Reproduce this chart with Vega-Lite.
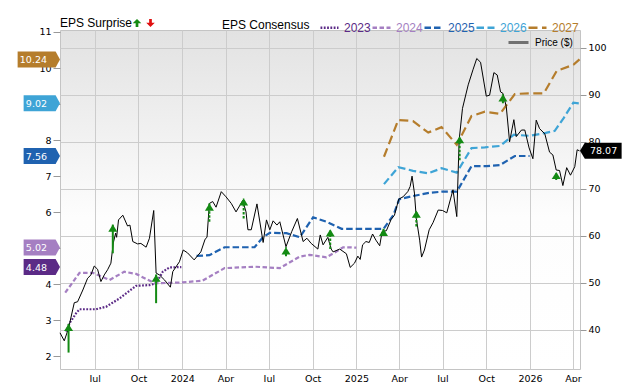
{
  "$schema": "https://vega.github.io/schema/vega-lite/v6.json",
  "width": 520,
  "height": 339,
  "autosize": {"type": "none"},
  "padding": {"left": 60, "top": 30, "right": 60, "bottom": 13},
  "background": "white",
  "config": {
    "view": {
      "stroke": "#c4c4c4",
      "fill": {"gradient": "linear", "x1": 0, "y1": 0, "x2": 0, "y2": 1,
        "stops": [{"offset": 0, "color": "#e2e2e2"}, {"offset": 0.55, "color": "#fdfdfd"}, {"offset": 1, "color": "#ffffff"}]}
    },
    "axis": {"labelFont": "DejaVu Sans", "labelFontSize": 9.5, "labelColor": "#000", "domain": false, "tickColor": "#999", "gridColor": "#cccccc", "gridWidth": 1, "labelOverlap": false},
    "legend": {"labelFont": "Liberation Sans", "titleFont": "Liberation Sans", "labelFontSize": 12, "titleFontSize": 12, "titleFontWeight": "normal", "titleColor": "#000", "labelColor": "#000", "padding": 0}
  },
  "datasets": {
    "cons": [
      {"year": "2023", "date": "2023-05-02", "eps": 2.69}, {"year": "2023", "date": "2023-05-09", "eps": 2.92}, {"year": "2023", "date": "2023-05-23", "eps": 3.2}, {"year": "2023", "date": "2023-05-30", "eps": 3.31}, {"year": "2023", "date": "2023-07-04", "eps": 3.31}, {"year": "2023", "date": "2023-07-25", "eps": 3.38}, {"year": "2023", "date": "2023-08-22", "eps": 3.61}, {"year": "2023", "date": "2023-09-26", "eps": 3.96}, {"year": "2023", "date": "2023-10-24", "eps": 3.98}, {"year": "2023", "date": "2023-11-07", "eps": 4.03}, {"year": "2023", "date": "2023-11-21", "eps": 4.35}, {"year": "2023", "date": "2023-12-05", "eps": 4.47}, {"year": "2023", "date": "2023-12-30", "eps": 4.48},
      {"year": "2024", "date": "2023-04-30", "eps": 3.77}, {"year": "2024", "date": "2023-05-30", "eps": 4.32}, {"year": "2024", "date": "2023-06-27", "eps": 4.32}, {"year": "2024", "date": "2023-08-01", "eps": 4.12}, {"year": "2024", "date": "2023-09-01", "eps": 4.35}, {"year": "2024", "date": "2023-09-26", "eps": 4.29}, {"year": "2024", "date": "2023-11-04", "eps": 4.03}, {"year": "2024", "date": "2023-12-26", "eps": 4.05}, {"year": "2024", "date": "2024-02-12", "eps": 4.1}, {"year": "2024", "date": "2024-03-30", "eps": 4.45}, {"year": "2024", "date": "2024-06-01", "eps": 4.49}, {"year": "2024", "date": "2024-07-24", "eps": 4.45}, {"year": "2024", "date": "2024-09-04", "eps": 4.77}, {"year": "2024", "date": "2024-09-25", "eps": 4.82}, {"year": "2024", "date": "2024-10-30", "eps": 4.75}, {"year": "2024", "date": "2024-11-20", "eps": 4.91}, {"year": "2024", "date": "2024-12-04", "eps": 5.03}, {"year": "2024", "date": "2025-01-01", "eps": 5.02},
      {"year": "2025", "date": "2024-01-31", "eps": 4.79}, {"year": "2025", "date": "2024-02-27", "eps": 4.81}, {"year": "2025", "date": "2024-03-30", "eps": 5.03}, {"year": "2025", "date": "2024-06-01", "eps": 5.03}, {"year": "2025", "date": "2024-06-19", "eps": 5.31}, {"year": "2025", "date": "2024-07-03", "eps": 5.43}, {"year": "2025", "date": "2024-08-07", "eps": 5.42}, {"year": "2025", "date": "2024-09-04", "eps": 5.31}, {"year": "2025", "date": "2024-10-02", "eps": 5.86}, {"year": "2025", "date": "2024-10-30", "eps": 5.74}, {"year": "2025", "date": "2024-12-01", "eps": 5.54}, {"year": "2025", "date": "2025-02-27", "eps": 5.54}, {"year": "2025", "date": "2025-03-20", "eps": 5.93}, {"year": "2025", "date": "2025-04-01", "eps": 6.36}, {"year": "2025", "date": "2025-04-30", "eps": 6.45}, {"year": "2025", "date": "2025-06-04", "eps": 6.54}, {"year": "2025", "date": "2025-06-29", "eps": 6.57}, {"year": "2025", "date": "2025-07-31", "eps": 6.57}, {"year": "2025", "date": "2025-08-31", "eps": 7.28}, {"year": "2025", "date": "2025-10-02", "eps": 7.28}, {"year": "2025", "date": "2025-10-30", "eps": 7.31}, {"year": "2025", "date": "2025-11-30", "eps": 7.56}, {"year": "2025", "date": "2025-12-31", "eps": 7.56},
      {"year": "2026", "date": "2025-02-28", "eps": 6.78}, {"year": "2026", "date": "2025-03-30", "eps": 7.25}, {"year": "2026", "date": "2025-04-30", "eps": 7.15}, {"year": "2026", "date": "2025-06-01", "eps": 7.08}, {"year": "2026", "date": "2025-06-29", "eps": 7.22}, {"year": "2026", "date": "2025-07-31", "eps": 7.1}, {"year": "2026", "date": "2025-08-31", "eps": 7.78}, {"year": "2026", "date": "2025-09-28", "eps": 7.8}, {"year": "2026", "date": "2025-10-30", "eps": 7.84}, {"year": "2026", "date": "2025-11-28", "eps": 8.15}, {"year": "2026", "date": "2025-12-31", "eps": 8.12}, {"year": "2026", "date": "2026-02-03", "eps": 8.2}, {"year": "2026", "date": "2026-02-22", "eps": 8.26}, {"year": "2026", "date": "2026-03-13", "eps": 8.62}, {"year": "2026", "date": "2026-04-02", "eps": 9.04}, {"year": "2026", "date": "2026-04-15", "eps": 9.02},
      {"year": "2027", "date": "2025-02-28", "eps": 7.54}, {"year": "2027", "date": "2025-03-30", "eps": 8.56}, {"year": "2027", "date": "2025-04-30", "eps": 8.53}, {"year": "2027", "date": "2025-06-01", "eps": 8.21}, {"year": "2027", "date": "2025-06-29", "eps": 8.36}, {"year": "2027", "date": "2025-07-31", "eps": 7.87}, {"year": "2027", "date": "2025-08-31", "eps": 8.67}, {"year": "2027", "date": "2025-09-28", "eps": 8.79}, {"year": "2027", "date": "2025-10-30", "eps": 8.73}, {"year": "2027", "date": "2025-11-30", "eps": 9.28}, {"year": "2027", "date": "2025-12-31", "eps": 9.3}, {"year": "2027", "date": "2026-01-30", "eps": 9.3}, {"year": "2027", "date": "2026-02-26", "eps": 9.92}, {"year": "2027", "date": "2026-04-02", "eps": 10.09}, {"year": "2027", "date": "2026-04-15", "eps": 10.24}
    ],
    "tags": [
      {"year": "2027", "eps": 10.24}, {"year": "2026", "eps": 9.02}, {"year": "2025", "eps": 7.56}, {"year": "2024", "eps": 5.02}, {"year": "2023", "eps": 4.48}
    ],
    "price": [
      {"date": "2023-04-19", "p": 39.4}, {"date": "2023-04-28", "p": 37.7}, {"date": "2023-05-07", "p": 40.4}, {"date": "2023-05-19", "p": 45.8}, {"date": "2023-05-26", "p": 46.0}, {"date": "2023-06-06", "p": 48.5}, {"date": "2023-06-16", "p": 51.0}, {"date": "2023-06-23", "p": 51.7}, {"date": "2023-06-30", "p": 53.6}, {"date": "2023-07-07", "p": 52.9}, {"date": "2023-07-14", "p": 50.3}, {"date": "2023-07-21", "p": 51.7}, {"date": "2023-07-28", "p": 52.8}, {"date": "2023-08-04", "p": 54.2}, {"date": "2023-08-09", "p": 58.5}, {"date": "2023-08-14", "p": 60.6}, {"date": "2023-08-16", "p": 59.7}, {"date": "2023-08-20", "p": 63.4}, {"date": "2023-08-29", "p": 64.4}, {"date": "2023-09-08", "p": 62.1}, {"date": "2023-09-13", "p": 62.3}, {"date": "2023-09-19", "p": 58.8}, {"date": "2023-09-29", "p": 58.3}, {"date": "2023-10-06", "p": 58.4}, {"date": "2023-10-17", "p": 57.6}, {"date": "2023-10-24", "p": 59.5}, {"date": "2023-11-02", "p": 65.4}, {"date": "2023-11-07", "p": 52.1}, {"date": "2023-11-14", "p": 51.7}, {"date": "2023-11-25", "p": 50.6}, {"date": "2023-12-07", "p": 49.1}, {"date": "2023-12-12", "p": 52.4}, {"date": "2023-12-26", "p": 54.5},
      {"date": "2024-01-03", "p": 57.0}, {"date": "2024-01-12", "p": 56.4}, {"date": "2024-01-26", "p": 54.9}, {"date": "2024-02-09", "p": 56.6}, {"date": "2024-02-18", "p": 59.3}, {"date": "2024-02-22", "p": 59.7}, {"date": "2024-02-27", "p": 66.9}, {"date": "2024-03-05", "p": 67.3}, {"date": "2024-03-12", "p": 66.1}, {"date": "2024-03-23", "p": 69.4}, {"date": "2024-04-02", "p": 68.3}, {"date": "2024-04-13", "p": 66.9}, {"date": "2024-04-23", "p": 65.1}, {"date": "2024-05-07", "p": 67.5}, {"date": "2024-05-14", "p": 65.1}, {"date": "2024-05-18", "p": 61.3}, {"date": "2024-05-25", "p": 61.3}, {"date": "2024-06-06", "p": 66.8}, {"date": "2024-06-19", "p": 58.6}, {"date": "2024-06-26", "p": 63.4}, {"date": "2024-07-03", "p": 61.3}, {"date": "2024-07-10", "p": 63.2}, {"date": "2024-07-18", "p": 62.3}, {"date": "2024-07-24", "p": 63.0}, {"date": "2024-08-06", "p": 57.7}, {"date": "2024-08-18", "p": 60.9}, {"date": "2024-08-30", "p": 63.7}, {"date": "2024-09-11", "p": 58.8}, {"date": "2024-09-19", "p": 59.5}, {"date": "2024-09-28", "p": 58.4}, {"date": "2024-10-12", "p": 57.2}, {"date": "2024-10-17", "p": 60.2}, {"date": "2024-10-23", "p": 58.1}, {"date": "2024-11-02", "p": 59.7}, {"date": "2024-11-09", "p": 57.2}, {"date": "2024-11-13", "p": 56.6}, {"date": "2024-11-27", "p": 57.2}, {"date": "2024-12-11", "p": 56.2}, {"date": "2024-12-19", "p": 53.3}, {"date": "2024-12-28", "p": 54.2},
      {"date": "2025-01-04", "p": 55.7}, {"date": "2025-01-09", "p": 55.0}, {"date": "2025-01-14", "p": 58.1}, {"date": "2025-01-21", "p": 58.8}, {"date": "2025-01-28", "p": 58.6}, {"date": "2025-02-04", "p": 60.4}, {"date": "2025-02-11", "p": 59.1}, {"date": "2025-02-19", "p": 57.9}, {"date": "2025-02-24", "p": 60.9}, {"date": "2025-03-05", "p": 61.1}, {"date": "2025-03-15", "p": 63.5}, {"date": "2025-03-22", "p": 64.4}, {"date": "2025-03-31", "p": 67.8}, {"date": "2025-04-09", "p": 68.3}, {"date": "2025-04-19", "p": 69.4}, {"date": "2025-04-24", "p": 70.5}, {"date": "2025-04-28", "p": 72.7}, {"date": "2025-05-03", "p": 69.1}, {"date": "2025-05-07", "p": 63.7}, {"date": "2025-05-14", "p": 59.1}, {"date": "2025-05-18", "p": 55.5}, {"date": "2025-05-24", "p": 57.0}, {"date": "2025-06-03", "p": 61.3}, {"date": "2025-06-11", "p": 62.8}, {"date": "2025-06-22", "p": 65.5}, {"date": "2025-07-01", "p": 65.4}, {"date": "2025-07-10", "p": 64.9}, {"date": "2025-07-23", "p": 69.8}, {"date": "2025-07-31", "p": 64.1}, {"date": "2025-08-05", "p": 80.4}, {"date": "2025-08-12", "p": 87.1}, {"date": "2025-08-24", "p": 92.1}, {"date": "2025-09-03", "p": 95.3}, {"date": "2025-09-11", "p": 97.7}, {"date": "2025-09-19", "p": 96.9}, {"date": "2025-10-01", "p": 89.7}, {"date": "2025-10-08", "p": 89.9}, {"date": "2025-10-17", "p": 94.7}, {"date": "2025-10-24", "p": 94.2}, {"date": "2025-10-31", "p": 90.6}, {"date": "2025-11-05", "p": 90.3}, {"date": "2025-11-12", "p": 87.5}, {"date": "2025-11-19", "p": 80.0}, {"date": "2025-11-28", "p": 84.7}, {"date": "2025-12-03", "p": 81.1}, {"date": "2025-12-14", "p": 82.5}, {"date": "2025-12-21", "p": 82.5}, {"date": "2025-12-30", "p": 78.7},
      {"date": "2026-01-07", "p": 76.4}, {"date": "2026-01-14", "p": 84.6}, {"date": "2026-01-21", "p": 82.8}, {"date": "2026-02-01", "p": 81.7}, {"date": "2026-02-11", "p": 77.8}, {"date": "2026-02-18", "p": 77.2}, {"date": "2026-02-25", "p": 74.0}, {"date": "2026-03-04", "p": 73.9}, {"date": "2026-03-11", "p": 70.7}, {"date": "2026-03-19", "p": 74.5}, {"date": "2026-03-27", "p": 72.9}, {"date": "2026-04-05", "p": 74.7}, {"date": "2026-04-10", "p": 78.3}, {"date": "2026-04-15", "p": 78.07}
    ],
    "surp": [
      {"date": "2023-05-07", "lo": 35.2, "hi": 41.3, "kind": "beat", "stem": "solid"},
      {"date": "2023-08-08", "lo": 56.3, "hi": 62.4, "kind": "beat", "stem": "solid"},
      {"date": "2023-11-07", "lo": 45.7, "hi": 51.8, "kind": "beat", "stem": "solid"},
      {"date": "2024-02-27", "lo": 63.0, "hi": 66.9, "kind": "beat", "stem": "dashed"},
      {"date": "2024-05-09", "lo": 63.7, "hi": 68.0, "kind": "beat", "stem": "dashed"},
      {"date": "2024-08-06", "lo": 55.7, "hi": 57.6, "kind": "beat", "stem": "dashed"},
      {"date": "2024-11-07", "lo": 57.2, "hi": 61.4, "kind": "beat", "stem": "dashed"},
      {"date": "2025-02-27", "lo": 60.2, "hi": 61.5, "kind": "beat", "stem": "dashed"},
      {"date": "2025-05-07", "lo": 62.0, "hi": 65.4, "kind": "beat", "stem": "dashed"},
      {"date": "2025-08-06", "lo": 76.1, "hi": 81.2, "kind": "beat", "stem": "dashed"},
      {"date": "2025-11-05", "lo": 88.2, "hi": 90.1, "kind": "beat", "stem": "dashed"},
      {"date": "2026-02-25", "lo": 71.9, "hi": 73.6, "kind": "beat", "stem": "dashed"}
    ],
    "last": [{"p": 78.07, "s": "Price ($)"}]
  },
  "resolve": {"scale": {"y": "independent", "shape": "independent"}, "legend": {"shape": "independent"}},
  "layer": [
    {
      "layer": [
        {
          "data": {"name": "cons"},
          "mark": {"type": "line", "strokeWidth": 2.2},
          "encoding": {
            "x": {"field": "date", "type": "temporal",
              "scale": {"domain": [{"year": 2023, "month": 4, "date": 19}, {"year": 2026, "month": 4, "date": 16}]},
              "axis": {"title": null, "grid": true, "tickSize": 0, "labelPadding": 4, "labelOverlap": false,
                "values": [{"year": 2023, "month": 7, "date": 1}, {"year": 2023, "month": 10, "date": 1}, {"year": 2024, "month": 1, "date": 1}, {"year": 2024, "month": 4, "date": 1}, {"year": 2024, "month": 7, "date": 1}, {"year": 2024, "month": 10, "date": 1}, {"year": 2025, "month": 1, "date": 1}, {"year": 2025, "month": 4, "date": 1}, {"year": 2025, "month": 7, "date": 1}, {"year": 2025, "month": 10, "date": 1}, {"year": 2026, "month": 1, "date": 1}, {"year": 2026, "month": 4, "date": 1}],
                "labelExpr": "month(datum.value) == 0 ? timeFormat(datum.value, '%Y') : timeFormat(datum.value, '%b')"}},
            "y": {"field": "eps", "type": "quantitative",
              "scale": {"domain": [1.653, 11.055], "nice": false, "zero": false},
              "axis": {"title": null, "orient": "left", "grid": false, "values": [2, 3, 4, 5, 6, 7, 8, 9, 10, 11], "tickSize": 7, "labelPadding": 2, "labelOverlap": false}},
            "color": {"field": "year", "type": "nominal",
              "scale": {"domain": ["2023", "2024", "2025", "2026", "2027"], "range": ["#5b2a86", "#a57fc2", "#1f62b0", "#3ea4d6", "#b57d2c"]},
              "legend": {"orient": "none", "legendX": 162, "legendY": -13, "direction": "horizontal", "title": "EPS Consensus", "titleOrient": "left", "titlePadding": 9, "symbolType": "stroke", "symbolSize": 324, "symbolStrokeWidth": 2.5, "labelOffset": 4, "columnPadding": -5.5,
                "encode": {"labels": {"update": {"fill": {"signal": "datum.value == '2023' ? '#5b2a86' : datum.value == '2024' ? '#a57fc2' : datum.value == '2025' ? '#1f62b0' : datum.value == '2026' ? '#3ea4d6' : '#b57d2c'"}}}}}},
            "strokeDash": {"field": "year", "type": "nominal",
              "scale": {"domain": ["2023", "2024", "2025", "2026", "2027"], "range": [[1.8, 1.5], [4.5, 2.5], [6.5, 3], [7.5, 3.5], [9, 4.5]]},
              "legend": {"orient": "none", "legendX": 162, "legendY": -13, "direction": "horizontal", "title": "EPS Consensus", "titleOrient": "left", "titlePadding": 9, "symbolType": "stroke", "symbolSize": 324, "symbolStrokeWidth": 2.5, "labelOffset": 4, "columnPadding": -5.5,
                "encode": {"labels": {"update": {"fill": {"signal": "datum.value == '2023' ? '#5b2a86' : datum.value == '2024' ? '#a57fc2' : datum.value == '2025' ? '#1f62b0' : datum.value == '2026' ? '#3ea4d6' : '#b57d2c'"}}}}}}
          }
        },
        {
          "data": {"name": "tags"},
          "transform": [{"filter": "datum.year == '2027'"}],
          "mark": {"type": "point", "filled": true, "opacity": 1, "size": 256, "strokeWidth": 0, "clip": false, "shape": "M-5.3,-1L-0.55,-1L0,0L-0.55,1L-5.3,1Z"},
          "encoding": {
            "x": {"datum": {"year": 2023, "month": 4, "date": 19}, "type": "temporal"},
            "y": {"field": "eps", "type": "quantitative", "axis": {"title": null, "orient": "left", "grid": false, "values": [2, 3, 4, 5, 6, 7, 8, 9, 10, 11], "tickSize": 7, "labelPadding": 2, "labelOverlap": false}},
            "fill": {"field": "year", "type": "nominal", "scale": {"domain": ["2023", "2024", "2025", "2026", "2027"], "range": ["#5b2a86", "#a57fc2", "#1f62b0", "#3ea4d6", "#b57d2c"]}, "legend": null}
          }
        },
        {
          "data": {"name": "tags"},
          "transform": [{"filter": "datum.year != '2027'"}],
          "mark": {"type": "point", "filled": true, "opacity": 1, "size": 256, "strokeWidth": 0, "clip": false, "shape": "M-4.55,-1L-0.55,-1L0,0L-0.55,1L-4.55,1Z"},
          "encoding": {
            "x": {"datum": {"year": 2023, "month": 4, "date": 19}, "type": "temporal"},
            "y": {"field": "eps", "type": "quantitative", "axis": {"title": null, "orient": "left", "grid": false, "values": [2, 3, 4, 5, 6, 7, 8, 9, 10, 11], "tickSize": 7, "labelPadding": 2, "labelOverlap": false}},
            "fill": {"field": "year", "type": "nominal", "legend": null}
          }
        },
        {
          "data": {"name": "tags"},
          "mark": {"type": "text", "align": "right", "baseline": "middle", "dx": -13, "dy": 0.5, "font": "DejaVu Sans", "fontSize": 9.5, "color": "#ffffff", "clip": false},
          "encoding": {
            "x": {"datum": {"year": 2023, "month": 4, "date": 19}, "type": "temporal"},
            "y": {"field": "eps", "type": "quantitative", "axis": {"title": null, "orient": "left", "grid": false, "values": [2, 3, 4, 5, 6, 7, 8, 9, 10, 11], "tickSize": 7, "labelPadding": 2, "labelOverlap": false}},
            "text": {"field": "eps", "type": "quantitative", "format": ".2f"}
          }
        },
        {
          "data": {"name": "surp"},
          "transform": [{"filter": "datum.kind == 'miss'"}],
          "mark": {"type": "point", "filled": true, "color": "#e01010", "opacity": 0, "size": 81, "strokeWidth": 0},
          "encoding": {
            "x": {"field": "date", "type": "temporal"},
            "y": {"field": "lo", "type": "quantitative", "axis": {"title": null, "orient": "left", "grid": false, "values": [2, 3, 4, 5, 6, 7, 8, 9, 10, 11], "tickSize": 7, "labelPadding": 2, "labelOverlap": false}},
            "shape": {"field": "kind", "type": "nominal",
              "scale": {"domain": ["miss"], "range": ["M0,0.9L0.95,-0.05L0.3,-0.05L0.3,-0.9L-0.3,-0.9L-0.3,-0.05L-0.95,-0.05Z"]},
              "legend": {"orient": "none", "legendX": 84.5, "legendY": -13, "direction": "horizontal", "title": null, "labelExpr": "''", "labelOffset": 0, "columnPadding": 0, "symbolSize": 81, "symbolOpacity": 1, "symbolStrokeWidth": 0}}
          }
        }
      ]
    },
    {
      "layer": [
        {
          "data": {"name": "price"},
          "mark": {"type": "line", "strokeWidth": 1, "stroke": "#000000"},
          "encoding": {
            "x": {"field": "date", "type": "temporal"},
            "y": {"field": "p", "type": "quantitative",
              "scale": {"domain": [31.71, 103.76], "nice": false, "zero": false},
              "axis": {"title": null, "orient": "right", "grid": true, "values": [40, 50, 60, 70, 80, 90, 100], "tickSize": 6, "labelPadding": 2, "labelOverlap": false}}
          }
        },
        {
          "data": {"name": "last"},
          "mark": {"type": "line", "strokeWidth": 3},
          "encoding": {
            "x": {"datum": {"year": 2026, "month": 4, "date": 16}, "type": "temporal"},
            "y": {"field": "p", "type": "quantitative"},
            "stroke": {"field": "s", "type": "nominal", "scale": {"range": ["#707070"]},
              "legend": {"orient": "none", "legendX": 447, "legendY": 1, "title": null, "symbolType": "stroke", "symbolSize": 400, "symbolStrokeWidth": 3, "labelFontSize": 10, "labelOffset": 5}}
          }
        },
        {
          "data": {"name": "surp"},
          "transform": [{"filter": "datum.stem == 'solid'"}],
          "mark": {"type": "rule", "color": "#138a13", "strokeWidth": 2},
          "encoding": {
            "x": {"field": "date", "type": "temporal"},
            "y": {"field": "lo", "type": "quantitative"},
            "y2": {"field": "hi"}
          }
        },
        {
          "data": {"name": "surp"},
          "transform": [{"filter": "datum.stem == 'dashed'"}],
          "mark": {"type": "rule", "color": "#138a13", "strokeWidth": 2, "strokeDash": [2.5, 1.5]},
          "encoding": {
            "x": {"field": "date", "type": "temporal"},
            "y": {"field": "lo", "type": "quantitative"},
            "y2": {"field": "hi"}
          }
        },
        {
          "data": {"name": "surp"},
          "mark": {"type": "point", "filled": true, "color": "#138a13", "opacity": 1, "size": 81, "strokeWidth": 0, "shape": "M0,0L1,1.6L-1,1.6Z"},
          "encoding": {
            "x": {"field": "date", "type": "temporal"},
            "y": {"field": "hi", "type": "quantitative"}
          }
        },
        {
          "data": {"name": "surp"},
          "mark": {"type": "point", "filled": true, "color": "#138a13", "opacity": 0, "size": 81, "strokeWidth": 0},
          "encoding": {
            "x": {"field": "date", "type": "temporal"},
            "y": {"field": "hi", "type": "quantitative"},
            "shape": {"field": "kind", "type": "nominal",
              "scale": {"domain": ["beat"], "range": ["M0,-0.9L0.95,0.05L0.3,0.05L0.3,0.9L-0.3,0.9L-0.3,0.05L-0.95,0.05Z"]},
              "legend": {"orient": "none", "legendX": 0, "legendY": -13, "direction": "horizontal", "title": "EPS Surprise", "titleOrient": "left", "titlePadding": -2, "labelExpr": "''", "labelOffset": 0, "columnPadding": 0.5, "symbolSize": 81, "symbolOpacity": 1, "symbolStrokeWidth": 0}}
          }
        },
        {
          "data": {"name": "last"},
          "mark": {"type": "point", "filled": true, "color": "#000000", "opacity": 1, "size": 256, "strokeWidth": 0, "clip": false, "shape": "M0,0L0.6,-1L5.2,-1L5.2,1L0.6,1Z"},
          "encoding": {
            "x": {"datum": {"year": 2026, "month": 4, "date": 16}, "type": "temporal"},
            "y": {"field": "p", "type": "quantitative"}
          }
        },
        {
          "data": {"name": "last"},
          "mark": {"type": "text", "align": "left", "baseline": "middle", "dx": 10, "dy": 0.5, "font": "DejaVu Sans", "fontSize": 9.5, "color": "#ffffff", "clip": false},
          "encoding": {
            "x": {"datum": {"year": 2026, "month": 4, "date": 16}, "type": "temporal"},
            "y": {"field": "p", "type": "quantitative"},
            "text": {"field": "p", "type": "quantitative", "format": ".2f"}
          }
        }
      ]
    }
  ]
}
